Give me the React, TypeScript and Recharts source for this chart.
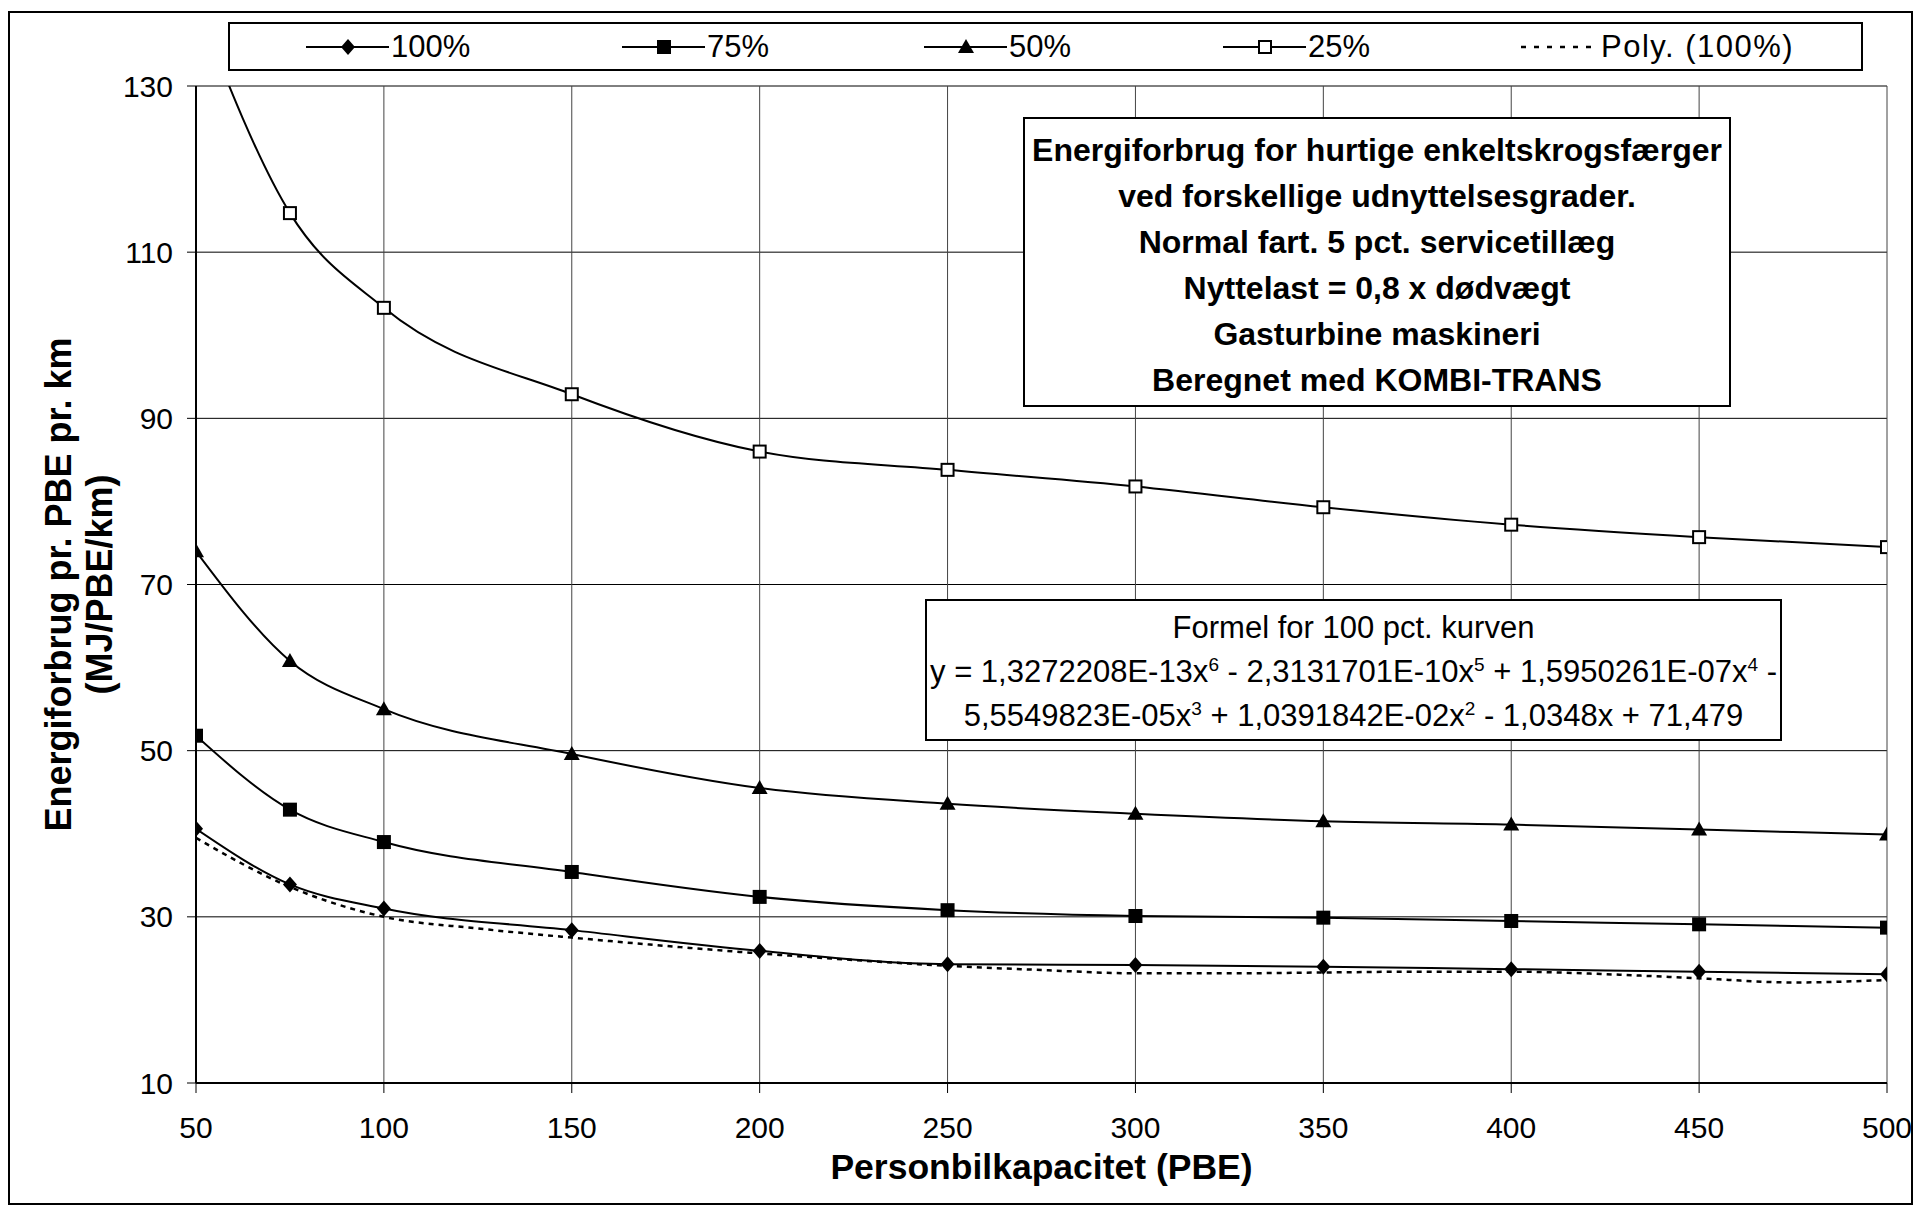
import React from "react";
import { LineChart, Line, XAxis, YAxis, CartesianGrid, Legend, Label } from "recharts";

const FONT = '"Liberation Sans", Arial, Helvetica, sans-serif';

// Personbilkapacitet (PBE)
const capacity = [50, 75, 100, 150, 200, 250, 300, 350, 400, 450, 500];

// Energiforbrug (MJ/PBE/km) ved udnyttelsesgrad
const load100 = [40.6, 33.9, 31.0, 28.4, 25.9, 24.3, 24.2, 24.0, 23.7, 23.4, 23.1];
const load75 = [51.8, 42.9, 39.0, 35.4, 32.4, 30.8, 30.1, 29.9, 29.5, 29.1, 28.7];
const load50 = [74.0, 60.8, 55.0, 49.6, 45.5, 43.6, 42.4, 41.5, 41.1, 40.5, 39.9];
const load25 = [140.0, 114.7, 103.3, 92.9, 86.0, 83.8, 81.8, 79.3, 77.2, 75.7, 74.5];

// Poly. (100%)
const trendCapacity = [50, 75, 100, 125, 150, 175, 200, 225, 250, 275, 300, 325, 350, 375, 400, 425, 450, 475, 500];
const trend100 = [39.5, 33.6, 30.0, 28.6, 27.5, 26.5, 25.6, 24.8, 24.1, 23.6, 23.2, 23.2, 23.3, 23.4, 23.4, 23.1, 22.6, 22.1, 22.4];

const xTicks = [50, 100, 150, 200, 250, 300, 350, 400, 450, 500];
const yTicks = [10, 30, 50, 70, 90, 110, 130];

const titleLines = [
  "Energiforbrug for hurtige enkeltskrogsfærger",
  "ved forskellige udnyttelsesgrader.",
  "Normal fart. 5 pct. servicetillæg",
  "Nyttelast = 0,8 x dødvægt",
  "Gasturbine maskineri",
  "Beregnet med KOMBI-TRANS",
];

type Shape = "diamond" | "square" | "triangle" | "openSquare";

const series: { name: string; values: number[]; shape: Shape }[] = [
  { name: "100%", values: load100, shape: "diamond" },
  { name: "75%", values: load75, shape: "square" },
  { name: "50%", values: load50, shape: "triangle" },
  { name: "25%", values: load25, shape: "openSquare" },
];

// width of each legend slot, left to right
const legendSlots = [316, 302, 299, 296];

const toPoints = (xs: number[], ys: number[]) => xs.map((x, i) => ({ x, y: ys[i] }));

function Marker({ shape, cx, cy }: { shape: Shape; cx: number; cy: number }) {
  switch (shape) {
    case "diamond":
      return <path d={`M${cx},${cy - 8}L${cx + 7},${cy}L${cx},${cy + 8}L${cx - 7},${cy}Z`} fill="#000" />;
    case "square":
      return <rect x={cx - 7} y={cy - 7} width={14} height={14} fill="#000" />;
    case "triangle":
      return <path d={`M${cx},${cy - 8}L${cx + 8},${cy + 6}L${cx - 8},${cy + 6}Z`} fill="#000" />;
    default:
      return <rect x={cx - 6} y={cy - 6} width={12} height={12} fill="#fff" stroke="#000" strokeWidth={2} />;
  }
}

const dotFor = (shape: Shape) => (props: any) => (
  <g key={`dot-${shape}-${props.index}`}>
    <Marker shape={shape} cx={props.cx} cy={props.cy} />
  </g>
);

function LegendBox() {
  return (
    <div
      style={{
        boxSizing: "border-box",
        width: 1635,
        height: 49,
        border: "2px solid #000",
        background: "#fff",
        display: "flex",
        alignItems: "center",
        paddingLeft: 76,
        fontFamily: FONT,
        fontSize: 31,
        color: "#000",
      }}
    >
      {series.map((s, i) => (
        <div key={s.name} style={{ display: "flex", alignItems: "center", width: legendSlots[i], flex: "none" }}>
          <svg width={83} height={20}>
            <line x1={0} y1={10} x2={83} y2={10} stroke="#000" strokeWidth={2} />
            <Marker shape={s.shape} cx={42} cy={10} />
          </svg>
          <span style={{ marginLeft: 2 }}>{s.name}</span>
        </div>
      ))}
      <div style={{ display: "flex", alignItems: "center" }}>
        <svg width={80} height={20}>
          <line x1={2} y1={10} x2={80} y2={10} stroke="#000" strokeWidth={2.5} strokeDasharray="5 8" />
        </svg>
        <span style={{ marginLeft: 2, letterSpacing: 1.5 }}>Poly. (100%)</span>
      </div>
    </div>
  );
}

const axisTick = { fill: "#000", fontSize: 30, fontFamily: FONT };

export default function App() {
  return (
    <div style={{ position: "absolute", left: 0, top: 0, width: 1921, height: 1208, background: "#fff", fontFamily: FONT }}>
      <div style={{ position: "absolute", left: 0, top: 0 }}>
        <LineChart width={1921} height={1208} margin={{ top: 86, right: 34, bottom: 0, left: 0 }}>
          <CartesianGrid vertical={false} stroke="#000" strokeWidth={1} />
          <CartesianGrid horizontal={false} stroke="#444" strokeWidth={1} />
          <XAxis
            dataKey="x"
            type="number"
            domain={[50, 500]}
            ticks={xTicks}
            interval={0}
            allowDataOverflow
            height={125}
            tick={axisTick}
            tickSize={10}
            tickMargin={24}
            tickLine={{ stroke: "#000" }}
            axisLine={{ stroke: "#000", strokeWidth: 2 }}
          >
            <Label
              content={(props: any) => {
                const vb = props.viewBox;
                return (
                  <text
                    x={vb.x + vb.width / 2}
                    y={1167}
                    dy="0.35em"
                    textAnchor="middle"
                    fontFamily={FONT}
                    fontSize={35.5}
                    fontWeight="bold"
                    fill="#000"
                  >
                    Personbilkapacitet (PBE)
                  </text>
                );
              }}
            />
          </XAxis>
          <YAxis
            type="number"
            domain={[10, 130]}
            ticks={yTicks}
            interval={0}
            allowDataOverflow
            width={196}
            tick={axisTick}
            tickSize={9}
            tickMargin={14}
            tickLine={{ stroke: "#000" }}
            axisLine={{ stroke: "#000", strokeWidth: 2 }}
          >
            <Label
              content={(props: any) => {
                const vb = props.viewBox;
                const cy = vb.y + vb.height / 2;
                return (
                  <g fontFamily={FONT} fontSize={36} fontWeight="bold" fill="#000">
                    <text x={58} y={cy} dy="0.35em" textAnchor="middle" transform={`rotate(-90, 58, ${cy})`}>
                      Energiforbrug pr. PBE pr. km
                    </text>
                    <text x={99} y={cy} dy="0.35em" textAnchor="middle" transform={`rotate(-90, 99, ${cy})`}>
                      (MJ/PBE/km)
                    </text>
                  </g>
                );
              }}
            />
          </YAxis>
          <Legend
            layout="horizontal"
            verticalAlign="middle"
            align="center"
            content={() => <LegendBox />}
            wrapperStyle={{ left: 228, top: 22, width: 1635, height: 49 }}
          />
          <Line
            data={toPoints(trendCapacity, trend100)}
            dataKey="y"
            name="Poly. (100%)"
            type="monotone"
            stroke="#000"
            strokeWidth={2.5}
            strokeDasharray="5 5"
            dot={false}
            activeDot={false}
            isAnimationActive={false}
          />
          {series.map((s) => (
            <Line
              key={s.name}
              data={toPoints(capacity, s.values)}
              dataKey="y"
              name={s.name}
              type="monotone"
              stroke="#000"
              strokeWidth={2}
              dot={dotFor(s.shape)}
              activeDot={false}
              isAnimationActive={false}
            />
          ))}
        </LineChart>
      </div>

      {/* chart area frame */}
      <div
        style={{
          position: "absolute",
          left: 8,
          top: 11,
          width: 1905,
          height: 1194,
          border: "2px solid #000",
          boxSizing: "border-box",
          pointerEvents: "none",
        }}
      />

      {/* title box */}
      <div
        style={{
          position: "absolute",
          left: 1023,
          top: 117,
          width: 708,
          height: 290,
          boxSizing: "border-box",
          border: "2px solid #000",
          background: "#fff",
          paddingTop: 8,
          textAlign: "center",
          fontWeight: "bold",
          fontSize: 32,
          lineHeight: "46px",
          color: "#000",
        }}
      >
        {titleLines.map((t) => (
          <div key={t}>{t}</div>
        ))}
      </div>

      {/* formula box */}
      <div
        style={{
          position: "absolute",
          left: 925,
          top: 599,
          width: 857,
          height: 142,
          boxSizing: "border-box",
          border: "2px solid #000",
          background: "#fff",
          paddingTop: 5,
          textAlign: "center",
          fontSize: 31,
          lineHeight: "44px",
          color: "#000",
          whiteSpace: "nowrap",
        }}
      >
        <div>Formel for 100 pct. kurven</div>
        <div>
          y = 1,3272208E-13x<sup style={{ fontSize: 19, lineHeight: 0 }}>6</sup> - 2,3131701E-10x
          <sup style={{ fontSize: 19, lineHeight: 0 }}>5</sup> + 1,5950261E-07x
          <sup style={{ fontSize: 19, lineHeight: 0 }}>4</sup> -
        </div>
        <div>
          5,5549823E-05x<sup style={{ fontSize: 19, lineHeight: 0 }}>3</sup> + 1,0391842E-02x
          <sup style={{ fontSize: 19, lineHeight: 0 }}>2</sup> - 1,0348x + 71,479
        </div>
      </div>
    </div>
  );
}
